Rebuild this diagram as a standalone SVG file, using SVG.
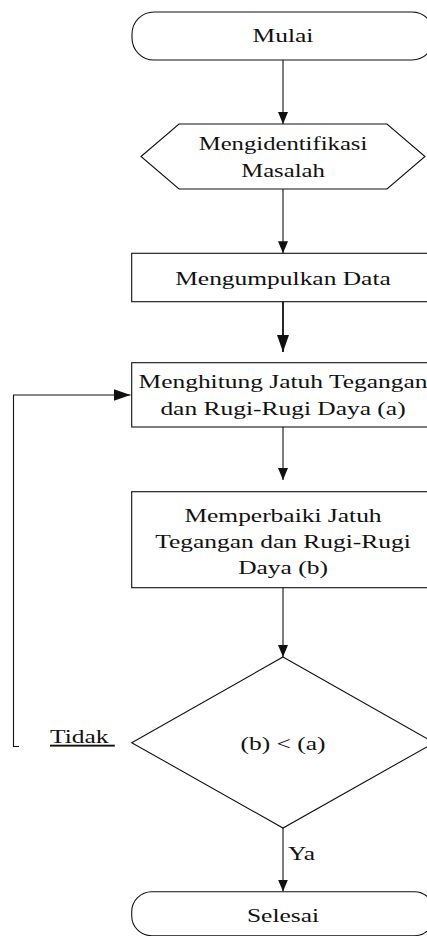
<svg xmlns="http://www.w3.org/2000/svg" width="427" height="936" viewBox="0 0 427 936">
<style>
  .shape { fill: #ffffff; stroke: #111111; stroke-width: 1.1; }
  .conn { fill: none; stroke: #111111; stroke-width: 1.1; }
  .thick { stroke-width: 1.8; }
  text { font-family: 'Liberation Serif', 'Times New Roman', 'DejaVu Serif', serif; font-size: 19px; fill: #111111; text-anchor: middle; }
  .left { text-anchor: start; }
</style>
<defs>
  <marker id="arr" markerUnits="userSpaceOnUse" markerWidth="13" markerHeight="11" refX="12" refY="5" orient="auto">
    <path d="M0,0 L12,5 L0,10 z" fill="#111111"/>
  </marker>
  <marker id="arrBig" markerUnits="userSpaceOnUse" markerWidth="18" markerHeight="13" refX="17" refY="6" orient="auto">
    <path d="M0,0 L17,6 L0,12 z" fill="#111111"/>
  </marker>
</defs>
<rect width="427" height="936" fill="#ffffff"/>

<g id="connectors">
  <line class="conn" x1="283" y1="60" x2="283" y2="124" marker-end="url(#arr)"/>
  <line class="conn" x1="283" y1="189" x2="283" y2="253.3" marker-end="url(#arr)"/>
  <line class="conn thick" x1="283" y1="288" x2="283" y2="352" marker-end="url(#arrBig)"/>
  <line class="conn" x1="283" y1="420" x2="283" y2="480" marker-end="url(#arr)"/>
  <line class="conn" x1="283" y1="585" x2="283" y2="657" marker-end="url(#arr)"/>
  <line class="conn" x1="283" y1="828" x2="283" y2="891.5" marker-end="url(#arr)"/>
  <polyline class="conn" points="19,746.5 13.5,746.5 13.5,395 130.5,395" stroke-width="1.4" marker-end="url(#arrBig)"/>
  <text class="left" font-family="Liberation Serif, serif" transform="matrix(1.34 0 0 1 50 743)" xml:space="preserve" text-decoration="underline">Tidak </text>
  <text class="left" font-family="Liberation Serif, serif" transform="matrix(1.34 0 0 1 288 860)">Ya</text>
</g>

<g id="mulai">
  <rect class="shape" x="132" y="12" width="302" height="48" rx="22" ry="22"/>
  <text font-family="Liberation Serif, serif" transform="matrix(1.34 0 0 1 283 41.7)">Mulai</text>
</g>

<g id="identifikasi">
  <polygon class="shape" points="141,156.5 179,124 387,124 425,156.5 387,189 179,189"/>
  <text font-family="Liberation Serif, serif" transform="matrix(1.30 0 0 1 283 150)">Mengidentifikasi</text>
  <text font-family="Liberation Serif, serif" transform="matrix(1.30 0 0 1 283 177)">Masalah</text>
</g>

<g id="kumpul">
  <rect class="shape" x="131.7" y="253.3" width="302.6" height="48.4"/>
  <text font-family="Liberation Serif, serif" transform="matrix(1.34 0 0 1 283 285)">Mengumpulkan Data</text>
</g>

<g id="hitung">
  <rect class="shape" x="131.7" y="362.7" width="302.6" height="64.3"/>
  <text font-family="Liberation Serif, serif" transform="matrix(1.34 0 0 1 283 388.3)">Menghitung Jatuh Tegangan</text>
  <text font-family="Liberation Serif, serif" transform="matrix(1.34 0 0 1 283 415)">dan Rugi-Rugi Daya (a)</text>
</g>

<g id="perbaiki">
  <rect class="shape" x="131.7" y="491.7" width="302.6" height="96"/>
  <text font-family="Liberation Serif, serif" transform="matrix(1.34 0 0 1 283 522)">Memperbaiki Jatuh</text>
  <text font-family="Liberation Serif, serif" transform="matrix(1.34 0 0 1 283 548)">Tegangan dan Rugi-Rugi</text>
  <text font-family="Liberation Serif, serif" transform="matrix(1.34 0 0 1 283 574)">Daya (b)</text>
</g>

<g id="keputusan">
  <polygon class="shape" points="283,657 434.3,742.7 283,828 131.7,742.7"/>
  <text font-family="Liberation Serif, serif" transform="matrix(1.34 0 0 1 283 750)">(b) &lt; (a)</text>
</g>

<g id="selesai">
  <rect class="shape" x="131.7" y="891.7" width="302.6" height="44" rx="20" ry="20"/>
  <text font-family="Liberation Serif, serif" transform="matrix(1.34 0 0 1 283 921.7)">Selesai</text>
</g>
</svg>
